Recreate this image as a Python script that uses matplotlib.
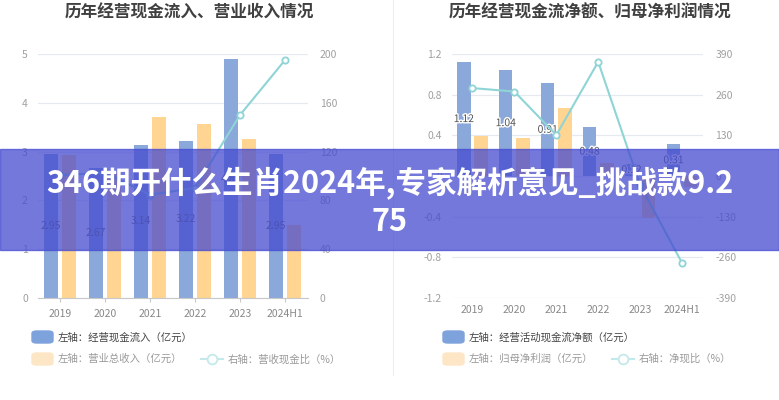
import matplotlib
matplotlib.use("Agg")
import matplotlib.pyplot as plt
import matplotlib.patheffects as pe
from matplotlib.patches import Rectangle, FancyBboxPatch
from matplotlib.lines import Line2D
import numpy as np

plt.rcParams["font.family"] = ["Noto Sans CJK SC", "DejaVu Sans"]

BLUE = "#8aa8da"
ORANGE = "#ffd591"
TEAL = "#8fd4d6"
GRID = "#e6eaf0"
TICK = "#a0a0a0"

years = ["2019", "2020", "2021", "2022", "2023", "2024H1"]

# left chart
cash_in = [2.95, 2.67, 3.14, 3.22, 4.89, 2.95]
revenue = [2.93, 2.60, 3.71, 3.57, 3.26, 1.49]
cash_ratio = [100.7, 102.7, 84.6, 90.2, 150.0, 195.0]

# right chart
net_cash = [1.12, 1.04, 0.91, 0.48, 0.12, 0.31]
net_profit = [0.39, 0.37, 0.67, 0.13, -0.41, -0.11]
net_ratio = [281, 270, 131, 365, -29, -278]

W, H = 779, 400
fig = plt.figure(figsize=(W / 100, H / 100), dpi=100)
fig.patch.set_facecolor("white")


def px_axes(x0, x1, y0, y1):
    return fig.add_axes([x0 / W, 1 - y1 / H, (x1 - x0) / W, (y1 - y0) / H])


def style(ax, ax2, yticks, yticks2, labels2):
    ax.set_facecolor("none")
    for s in ax.spines.values():
        s.set_visible(False)
    for s in ax2.spines.values():
        s.set_visible(False)
    ax.set_yticks(yticks)
    ax.set_ylim(yticks[0], yticks[-1])
    ax.grid(axis="y", color=GRID, linewidth=0.9)
    ax.set_axisbelow(True)
    ax.tick_params(axis="y", length=0, labelsize=7.5, colors=TICK, pad=7)
    ax.tick_params(axis="x", length=3, color="#c8c8c8", labelsize=7.5, labelcolor="#888888", pad=5)
    ax.set_xticks(np.arange(len(years)))
    ax.set_xticklabels(years)
    ax.set_xlim(-0.5, len(years) - 0.5)
    ax2.set_yticks(yticks2)
    ax2.set_yticklabels(labels2)
    ax2.set_ylim(yticks2[0], yticks2[-1])
    ax2.tick_params(axis="y", length=0, labelsize=7.5, colors=TICK, pad=9)


x = np.arange(len(years))
bw = 0.32
off = 0.205

# ---- left chart
ax = px_axes(37.5, 307.5, 54, 298)
ax2 = ax.twinx()
style(ax, ax2, [0, 1, 2, 3, 4, 5], [0, 40, 80, 120, 160, 200],
      ["0", "40", "80", "120", "160", "200"])
ax.spines["bottom"].set_visible(True)
ax.spines["bottom"].set_color("#c8c8c8")
ax.bar(x - off, cash_in, bw, color=BLUE, zorder=2)
ax.bar(x + off, revenue, bw, color=ORANGE, zorder=2)
for xi, v in zip(x, cash_in):
    ax.text(xi - off, v / 2, f"{v:.2f}", ha="center", va="center", fontsize=7.5,
            color="#666666", zorder=3)
ax2.plot(x, cash_ratio, color=TEAL, linewidth=1.5, marker="o", markersize=4.5,
         markerfacecolor="white", markeredgecolor=TEAL, markeredgewidth=1.3, zorder=4)

# ---- right chart
bx = px_axes(451.5, 703, 54, 298)
bx2 = bx.twinx()
style(bx, bx2, [-1.2, -0.8, -0.4, 0, 0.4, 0.8, 1.2], [-390, -260, -130, 0, 130, 260, 390],
      ["-390", "-260", "-130", "0", "130", "260", "390"])
bx.set_yticklabels(["-1.2", "-0.8", "-0.4", "0", "0.4", "0.8", "1.2"])
bx.tick_params(axis="x", length=0)
bx.bar(x - off, net_cash, bw, color=BLUE, zorder=2)
bx.bar(x + off, net_profit, bw, color=ORANGE, zorder=2)
for xi, v in zip(x, net_cash):
    bx.text(xi - off, v / 2, f"{v:.2f}", ha="center", va="center", fontsize=7.5,
            color="#555555", zorder=3,
            path_effects=[pe.withStroke(linewidth=2, foreground="white")])
bx2.plot(x, net_ratio, color=TEAL, linewidth=1.5, marker="o", markersize=4.5,
         markerfacecolor="white", markeredgecolor=TEAL, markeredgewidth=1.3, zorder=4)

# titles
fig.text(189 / W, 1 - 13 / H, "历年经营现金流入、营业收入情况", ha="center", va="center",
         fontsize=12, fontweight="bold", color="#404040")
fig.text(590 / W, 1 - 13 / H, "历年经营现金流净额、归母净利润情况", ha="center", va="center",
         fontsize=12, fontweight="bold", color="#404040")

# divider
fig.add_artist(Line2D([393 / W, 393 / W], [1 - 375 / H, 1.0], color="#eeeeee", linewidth=0.8))


# legends
def legend_patch(x0, yc, color, text, tcolor):
    fig.add_artist(FancyBboxPatch((x0 / W, 1 - (yc + 6) / H), 21 / W, 12 / H,
                                  boxstyle="round,pad=0,rounding_size=0.006",
                                  color=color, transform=fig.transFigure))
    fig.text((x0 + 26) / W, 1 - yc / H, text, ha="left", va="center", fontsize=7.5, color=tcolor)


def legend_line(x0, yc, text, tcolor):
    fig.add_artist(Line2D([x0 / W, (x0 + 22) / W], [1 - yc / H, 1 - yc / H], color="#c4e9ea",
                          linewidth=1.5, transform=fig.transFigure))
    fig.add_artist(Line2D([(x0 + 11) / W], [1 - yc / H], marker="o", markersize=7,
                          markerfacecolor="white", markeredgecolor="#c4e9ea", markeredgewidth=1.3,
                          transform=fig.transFigure))
    fig.text((x0 + 27) / W, 1 - yc / H, text, ha="left", va="center", fontsize=7.5, color=tcolor)


legend_patch(32, 337, "#7ea2dc", "左轴：经营现金流入（亿元）", "#444444")
legend_patch(32, 359, "#fde6c6", "左轴：营业总收入（亿元）", "#9a9a9a")
legend_line(201, 359, "右轴：营收现金比（%）", "#9a9a9a")

legend_patch(443, 337, "#7ea2dc", "左轴：经营活动现金流净额（亿元）", "#444444")
legend_patch(443, 359, "#fde6c6", "左轴：归母净利润（亿元）", "#9a9a9a")
legend_line(612, 359, "右轴：净现比（%）", "#9a9a9a")

# overlay banner
fig.add_artist(Rectangle((0, 1 - 250 / H), 1, 101 / H, color="#454bd0", alpha=0.75,
                         transform=fig.transFigure, zorder=10))
fig.text(389.5 / W, 1 - 183 / H, "346期开什么生肖2024年,专家解析意见_挑战款9.2", ha="center",
         va="center", fontsize=22, fontweight="bold", color="white", zorder=11)
fig.text(389.5 / W, 1 - 222 / H, "75", ha="center", va="center", fontsize=22,
         fontweight="bold", color="white", zorder=11)

fig.savefig("out.png", dpi=100, facecolor="white")
